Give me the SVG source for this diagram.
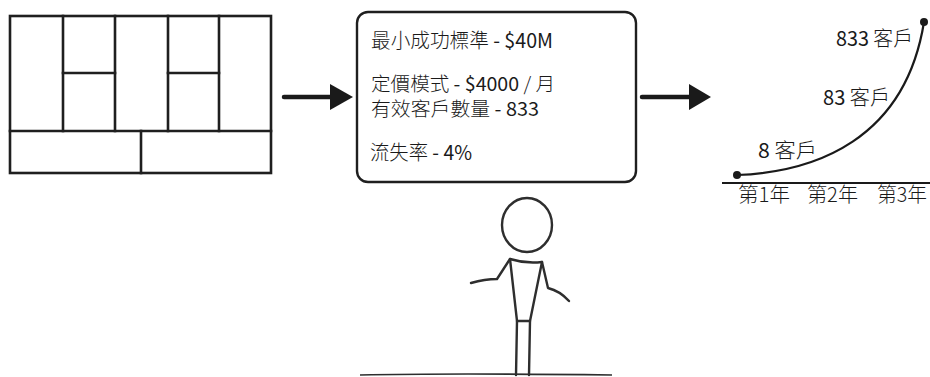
<svg xmlns="http://www.w3.org/2000/svg" width="930" height="377" viewBox="0 0 930 377">
  <defs>
    <style>
      .grid { fill: none; stroke: #1f1f1f; stroke-width: 2.6; stroke-linecap: square; }
      .txt { font-family: "Noto Sans CJK TC", "Noto Sans", sans-serif; font-size: 20px; font-weight: 300; fill: #1a1a1a; }
      .tight { font-size: 19px; }
      .num { font-weight: 400; }
      .conn { stroke: #1a1a1a; stroke-width: 4.5; stroke-linecap: round; fill: none; }
      .head { fill: #1a1a1a; }
      .sketch { fill: none; stroke: #2e2e2e; stroke-width: 2.4; stroke-linecap: round; stroke-linejoin: round; }
    </style>
  </defs>

  <rect width="930" height="377" fill="#ffffff"/>

  <!-- nine-block canvas grid -->
  <g id="canvas">
    <rect class="grid" x="10" y="16" width="261" height="157"/>
    <line class="grid" x1="10" y1="131" x2="271" y2="131"/>
    <line class="grid" x1="63" y1="16" x2="63" y2="131"/>
    <line class="grid" x1="115" y1="16" x2="115" y2="131"/>
    <line class="grid" x1="168" y1="16" x2="168" y2="131"/>
    <line class="grid" x1="219" y1="16" x2="219" y2="131"/>
    <line class="grid" x1="63" y1="73" x2="115" y2="73"/>
    <line class="grid" x1="168" y1="73" x2="219" y2="73"/>
    <line class="grid" x1="141" y1="131" x2="141" y2="173"/>
  </g>

  <!-- key metrics box -->
  <g id="metrics">
    <rect x="357" y="12" width="279" height="170" rx="11" ry="11" fill="#ffffff" stroke="#1f1f1f" stroke-width="2.4"/>
    <text class="txt" x="371" y="48" textLength="182" lengthAdjust="spacingAndGlyphs">最小成功標準 <tspan class="num">- $40M</tspan></text>
    <text class="txt tight" x="371" y="91" textLength="184" lengthAdjust="spacingAndGlyphs">定價模式 <tspan class="num">- $4000</tspan> / 月</text>
    <text class="txt tight" x="371" y="116" textLength="168" lengthAdjust="spacingAndGlyphs">有效客戶數量 <tspan class="num">- 833</tspan></text>
    <text class="txt" x="370" y="160" textLength="102" lengthAdjust="spacingAndGlyphs">流失率 <tspan class="num">- 4%</tspan></text>
  </g>

  <!-- customer growth chart -->
  <g id="growth">
    <line x1="722" y1="183" x2="930" y2="183" stroke="#1a1a1a" stroke-width="2.2"/>
    <path d="M737,175 C815,172 905,140 924,22" fill="none" stroke="#1a1a1a" stroke-width="2.2"/>
    <circle cx="737" cy="175" r="4" fill="#1a1a1a"/>
    <circle cx="924" cy="22" r="4" fill="#1a1a1a"/>
    <text class="txt" x="836" y="46" textLength="77" lengthAdjust="spacingAndGlyphs"><tspan class="num">833</tspan> 客戶</text>
    <text class="txt" x="823" y="105" textLength="67" lengthAdjust="spacingAndGlyphs"><tspan class="num">83</tspan> 客戶</text>
    <text class="txt" x="758" y="158" textLength="59" lengthAdjust="spacingAndGlyphs"><tspan class="num">8</tspan> 客戶</text>
    <text class="txt" x="738" y="202" textLength="52" lengthAdjust="spacingAndGlyphs">第1年</text>
    <text class="txt" x="807" y="202" textLength="51" lengthAdjust="spacingAndGlyphs">第2年</text>
    <text class="txt" x="877" y="202" textLength="50" lengthAdjust="spacingAndGlyphs">第3年</text>
  </g>

  <!-- stick figure -->
  <g id="person">
    <ellipse class="sketch" cx="527" cy="225" rx="25" ry="27"/>
    <path class="sketch" d="M510,259 Q526,264 542,262 L530,321 L517,321 Z"/>
    <path class="sketch" d="M510,259 L497,279 Q485,279 471,283"/>
    <path class="sketch" d="M542,262 L548,288 Q560,291 569,301"/>
    <path class="sketch" d="M517,321 L516,375"/>
    <path class="sketch" d="M530,321 L529,375"/>
    <path d="M360,375 Q450,373 612,375" fill="none" stroke="#2e2e2e" stroke-width="1.6"/>
  </g>

  <!-- connectors -->
  <g id="connectors">
    <line class="conn" x1="284" y1="97" x2="332" y2="97"/>
    <polygon class="head" points="330,84 353,97 330,110"/>
    <line class="conn" x1="642" y1="97" x2="692" y2="97"/>
    <polygon class="head" points="689,84 711,97 689,110"/>
  </g>
</svg>
